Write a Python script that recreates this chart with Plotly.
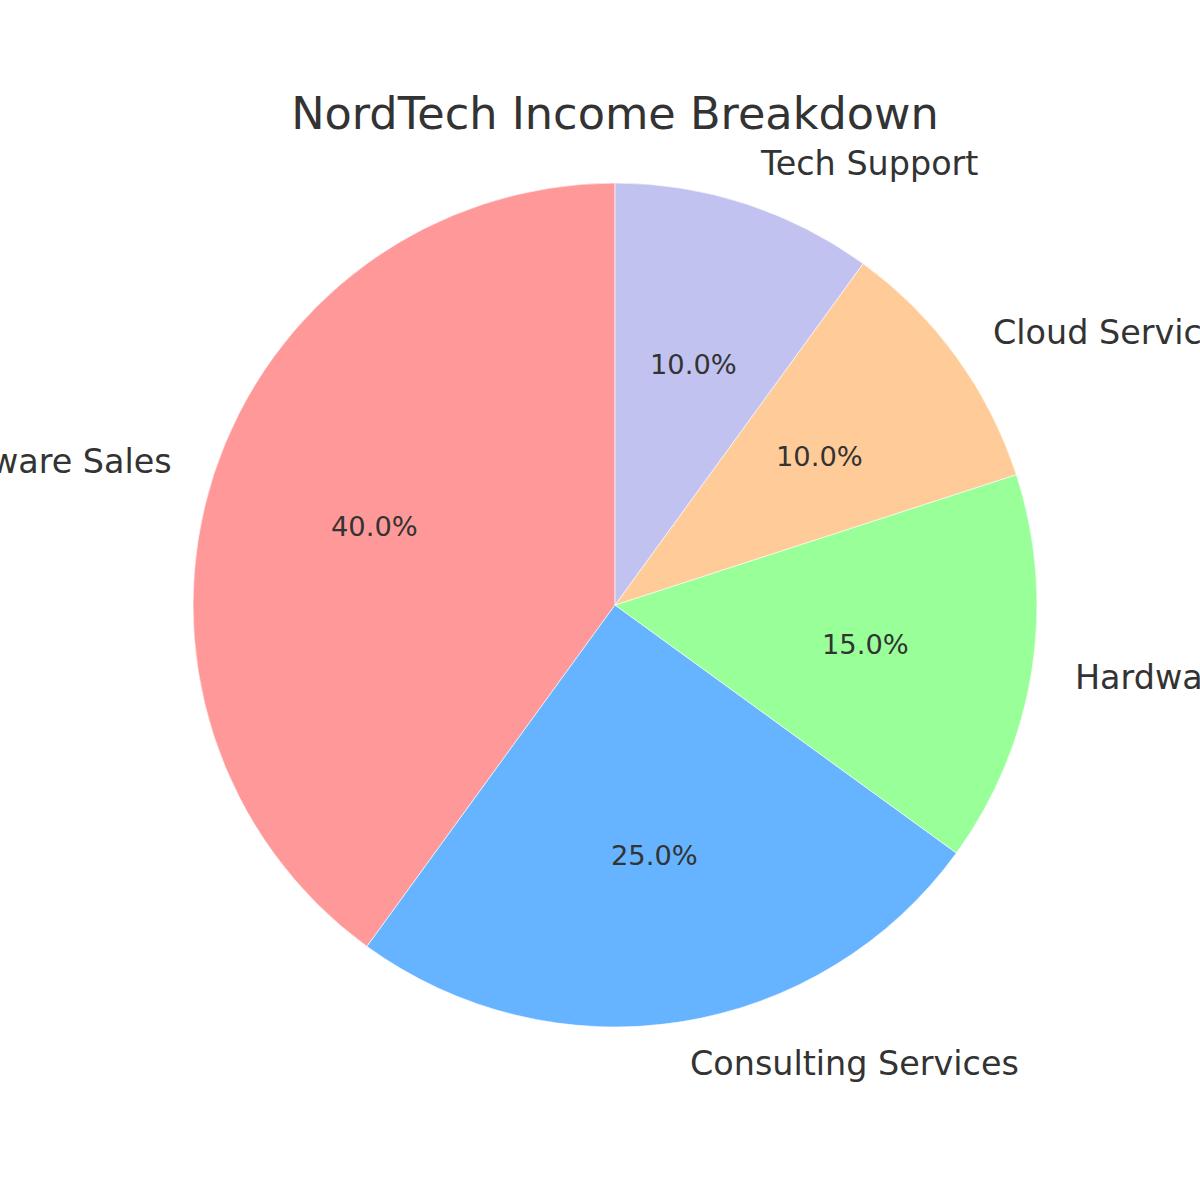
import math
import plotly.graph_objects as go

# Data
categories = ["Software Sales", "Consulting Services", "Hardware Sales", "Cloud Services", "Tech Support"]
shares = [40, 25, 15, 10, 10]
colors = ["#ff9999", "#66b3ff", "#99ff99", "#ffcc99", "#c2c2f0"]

W = H = 1200
cx, cy, r = 615, 605, 422  # pixels (cy from top)

fig = go.Figure(go.Pie(
    labels=categories,
    values=shares,
    sort=False,
    direction="counterclockwise",
    rotation=216,
    marker=dict(colors=colors, line=dict(color="white", width=0.6)),
    textinfo="none",
    hoverinfo="label+percent",
    showlegend=False,
    domain=dict(x=[(cx - r) / W, (cx + r) / W],
                y=[(H - cy - r) / H, (H - cy + r) / H]),
))

total = sum(shares)
annotations = []
start = 90.0
for lab, v in zip(categories, shares):
    span = 360.0 * v / total
    mid = math.radians(start + span / 2)
    start += span
    # percentage label at 0.6 r
    px = cx + 0.6 * r * math.cos(mid)
    py = cy - 0.6 * r * math.sin(mid)
    annotations.append(dict(
        x=px / W, y=1 - py / H, xref="paper", yref="paper",
        text=f"{100.0 * v / total:.1f}%", showarrow=False,
        xanchor="center", yanchor="middle",
        font=dict(family="DejaVu Sans", size=27.3, color="#333333"),
    ))
    # category label at 1.1 r
    lx = cx + 1.1 * r * math.cos(mid)
    ly = cy - 1.1 * r * math.sin(mid)
    annotations.append(dict(
        x=lx / W, y=1 - ly / H, xref="paper", yref="paper",
        text=lab, showarrow=False,
        xanchor="left" if math.cos(mid) > 0 else "right", yanchor="middle",
        font=dict(family="DejaVu Sans", size=33.4, color="#333333"),
    ))

fig.update_layout(
    width=W, height=H,
    margin=dict(l=0, r=0, t=0, b=0),
    paper_bgcolor="white",
    plot_bgcolor="white",
    title=dict(text="NordTech Income Breakdown", x=615 / W, xanchor="center",
               y=1 - 113 / H, yanchor="middle",
               font=dict(family="DejaVu Sans", size=44.6, color="#333333")),
    annotations=annotations,
)

fig.write_html("out.html")
